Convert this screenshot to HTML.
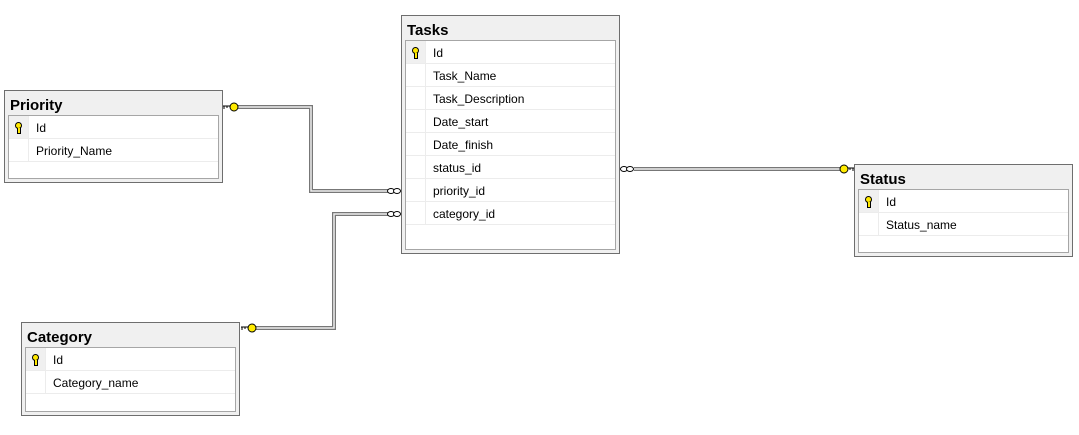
<!DOCTYPE html>
<html><head><meta charset="utf-8"><style>
body{margin:0;width:1079px;height:435px;background:#fff;position:relative;overflow:hidden;font-family:"Liberation Sans",sans-serif;}
.t{position:absolute;width:219px;border:1px solid #6e6e6e;background:#f0f0f0;box-sizing:border-box;}
.t .h{position:absolute;left:5px;top:6px;font-weight:bold;font-size:15px;color:#000;}
.t .in{position:absolute;left:3px;top:24px;right:3px;bottom:3px;border:1px solid #a6a6a6;background:#fff;}
.r{position:relative;height:22px;border-bottom:1px solid #ececec;font-size:12px;line-height:24px;color:#000;}
.r .k{position:absolute;left:0;top:0;width:19px;height:22px;border-right:1px solid #ececec;}
.r .k.kk{background:#f0f0f0;}
.r span{position:absolute;left:27px;}
.key{position:absolute;left:6px;top:6px;width:5px;height:5px;border:1px solid #000;border-radius:50%;background:#ffe800;}
.key:after{content:"";position:absolute;left:1px;top:5px;width:2px;height:5px;background:#ffe800;border:1px solid #000;border-top:none;}
</style></head><body>
<svg width="1079" height="435" style="position:absolute;left:0;top:0">
<g fill="none" stroke-linejoin="miter">
<polyline points="238,107 311,107 311,191 390,191" stroke="#777" stroke-width="4"/>
<polyline points="238,107 311,107 311,191 390,191" stroke="#eee" stroke-width="1.5"/>
<polyline points="256,328 334,328 334,214 390,214" stroke="#777" stroke-width="4"/>
<polyline points="256,328 334,328 334,214 390,214" stroke="#eee" stroke-width="1.5"/>
<line x1="634" y1="169" x2="840" y2="169" stroke="#777" stroke-width="4"/>
<line x1="634" y1="169" x2="840" y2="169" stroke="#eee" stroke-width="1.5"/>
</g>
<g fill="#fff" stroke="#000" stroke-width="1">
<ellipse cx="391" cy="191" rx="3.5" ry="2.5"/><ellipse cx="397" cy="191" rx="3.5" ry="2.5"/>
<ellipse cx="391" cy="214" rx="3.5" ry="2.5"/><ellipse cx="397" cy="214" rx="3.5" ry="2.5"/>
<ellipse cx="624" cy="169" rx="3.5" ry="2.5"/><ellipse cx="630" cy="169" rx="3.5" ry="2.5"/>
</g>
<g stroke="#000" stroke-width="1" fill="#ffeb00">
<circle cx="234" cy="107" r="4"/><path d="M223,106 h7 M224,106 v3 M227,106 v2" fill="none"/>
<circle cx="252" cy="328" r="4"/><path d="M241,327 h7 M242,327 v3 M245,327 v2" fill="none"/>
<circle cx="844" cy="169" r="4"/><path d="M848,168 h6 M853,168 v3 M850,168 v2" fill="none"/>
</g>
</svg>

<div class="t" style="left:4px;top:90px;height:93px"><div class="h">Priority</div><div class="in">
<div class="r"><div class="k kk"><div class="key"></div></div><span>Id</span></div>
<div class="r"><div class="k"></div><span>Priority_Name</span></div>
</div></div>

<div class="t" style="left:401px;top:15px;height:239px"><div class="h">Tasks</div><div class="in">
<div class="r"><div class="k kk"><div class="key"></div></div><span>Id</span></div>
<div class="r"><div class="k"></div><span>Task_Name</span></div>
<div class="r"><div class="k"></div><span>Task_Description</span></div>
<div class="r"><div class="k"></div><span>Date_start</span></div>
<div class="r"><div class="k"></div><span>Date_finish</span></div>
<div class="r"><div class="k"></div><span>status_id</span></div>
<div class="r"><div class="k"></div><span>priority_id</span></div>
<div class="r"><div class="k"></div><span>category_id</span></div>
</div></div>

<div class="t" style="left:854px;top:164px;height:93px"><div class="h">Status</div><div class="in">
<div class="r"><div class="k kk"><div class="key"></div></div><span>Id</span></div>
<div class="r"><div class="k"></div><span>Status_name</span></div>
</div></div>

<div class="t" style="left:21px;top:322px;height:94px"><div class="h">Category</div><div class="in">
<div class="r"><div class="k kk"><div class="key"></div></div><span>Id</span></div>
<div class="r"><div class="k"></div><span>Category_name</span></div>
</div></div>
</body></html>
